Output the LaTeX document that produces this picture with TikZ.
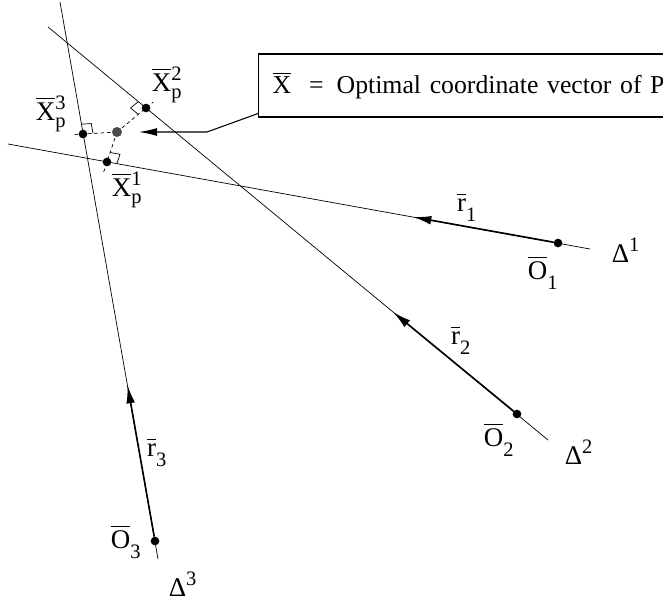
\documentclass[tikz,border=0pt]{standalone}
\usepackage{amsmath}
\usepackage{fontspec}
\setmainfont{Liberation Serif}
\DeclareMathSizes{23}{23}{17.5}{13}
\usetikzlibrary{arrows.meta,calc}

\begin{document}
\begin{tikzpicture}[x=0.03cm,y=-0.03cm,
  every node/.style={font=\fontsize{23}{27}\selectfont},
  ray/.style={line width=0.6pt},
  vec/.style={line width=1.4pt,-{Latex[length=5.5mm,width=2.6mm]}},
  dot/.style={circle,fill=black,inner sep=0pt,minimum size=2.6mm},
  keybox/.style={draw,line width=0.9pt,font=\fontsize{22}{26}\selectfont,inner xsep=4.2mm,minimum height=1.89cm,text width=12cm,align=left}]
\useasboundingbox (0,0) rectangle (663,603);
\clip (0,0) rectangle (663,603);
% the three lines
\coordinate (A1) at (8,144);   \coordinate (B1) at (590,249);
\coordinate (A2) at (48,27);   \coordinate (B2) at (548,440);
\coordinate (A3) at (60,2);    \coordinate (B3) at (158,559);
\draw[ray] (A1) -- (B1);
\draw[ray] (A2) -- (B2);
\draw[ray] (A3) -- (B3);
\node[dot] (O1) at (558,243) {};
\node[dot] (O2) at (517,414) {};
\node[dot] (O3) at (155,541) {};
\coordinate (T1) at (413,217);
\coordinate (T2) at (393,312);
\coordinate (T3) at (127.5,385);
\draw[vec] (O1) -- (T1);
\draw[vec] (O2) -- (T2);
\draw[vec] (O3) -- (T3);
% optimal point and its feet
\coordinate (Xopt) at (117,132);
\coordinate (Xp1) at (107,162);
\coordinate (Xp2) at (146,108);
\coordinate (Xp3) at (83,134);
\foreach \p/\k in {Xp1/1.35,Xp2/1.25,Xp3/1.3}
  \draw[ray,dash pattern=on 3pt off 2.5pt] (Xopt) -- ($(Xopt)!\k!(\p)$);
\foreach \p/\e in {Xp1/B1,Xp2/A2,Xp3/A3}
  \draw[ray] ($(\p)!3mm!(\e)$) -- ($(\p)!3mm!(\e) + (\p)!3mm!(Xopt) - (\p)$) -- ($(\p)!3mm!(Xopt)$);
\node[dot] (P1) at (Xp1) {};
\node[dot] (P2) at (Xp2) {};
\node[dot] (P3) at (Xp3) {};
\node[circle,fill=black!70,inner sep=0pt,minimum size=3mm] (X) at (Xopt) {};
% key
\node[keybox,anchor=west] (key) at (258,85.5) {$\overline{\text{X}}$\hspace{5.4mm}=\hspace{3.9mm}Optimal coordinate vector of P};
\coordinate (kink) at (207,132);
\draw[line width=0.9pt,-{Latex[length=5.5mm,width=2.4mm]},shorten >=5mm] ([yshift=1.2mm]key.south west) -- (kink) -- (X);
% labels
\node (lXp1) at (127,190) {$\overline{\text{X}}{}^{\text{1}}_{\text{p}}$};
\node (lXp2) at (167,85) {$\overline{\text{X}}{}^{\text{2}}_{\text{p}}$};
\node (lXp3) at (51,114) {$\overline{\text{X}}{}^{\text{3}}_{\text{p}}$};
\node (lr1) at (467,207) {$\overline{\text{r}}_{\text{\raisebox{-5pt}{1}}}$};
\node (lr2) at (461,340) {$\overline{\text{r}}_{\text{\raisebox{-5pt}{2}}}$};
\node (lr3) at (157,452) {$\overline{\text{r}}_{\text{\raisebox{-5pt}{3}}}$};
\node (lO1) at (543,273) {$\overline{\text{O}}_{\text{\raisebox{-5pt}{1}}}$};
\node (lO2) at (499,440) {$\overline{\text{O}}_{\text{\raisebox{-5pt}{2}}}$};
\node (lO3) at (126,542) {$\overline{\text{O}}_{\text{\raisebox{-5pt}{3}}}$};
\node (lD1) at (626,250) {$\text{Δ}^{\text{1}}$};
\node (lD2) at (579,452) {$\text{Δ}^{\text{2}}$};
\node (lD3) at (183,584) {$\text{Δ}^{\text{3}}$};
\end{tikzpicture}
\end{document}
